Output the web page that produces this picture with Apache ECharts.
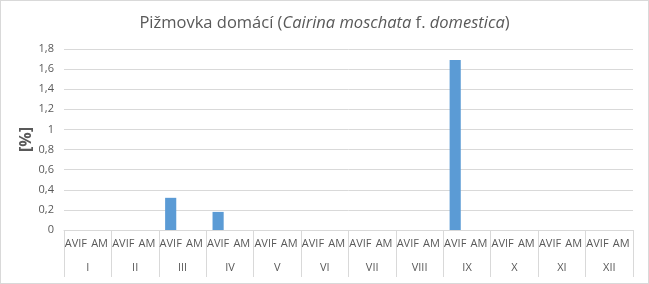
<!DOCTYPE html>
<html><head><meta charset="utf-8">
<script src="https://cdn.jsdelivr.net/npm/echarts@6/dist/echarts.min.js"></script>
<style>html,body{margin:0;padding:0;background:#fff}#c{width:647px;height:282px;border:1px solid #d9d9d9}</style>
</head><body><div id="c"></div>
<script>
const months = ['I','II','III','IV','V','VI','VII','VIII','IX','X','XI','XII'];
const subCats = ['AVIF','AM'];
const avif = [0,0,0.32,0.18,0,0,0,0,1.69,0,0,0];
const am = [0,0,0,0,0,0,0,0,0,0,0,0];
const yTicks = {min:0,max:1.8,interval:0.2};

const cats = [], vals = [];
months.forEach((m,i)=>{ cats.push(subCats[0]); vals.push(avif[i]); cats.push(subCats[1]); vals.push(am[i]); });

const font = '"Open Sans", sans-serif';
const chart = echarts.init(document.getElementById('c'));
chart.setOption({
  animation:false,
  backgroundColor:'#fff',
  title:{
    text:'{n|Pižmovka domácí (}{i|Cairina moschata}{n| f. }{i|domestica}{n|)}',
    left:'center', top:9,
    textStyle:{fontWeight:'normal',rich:{
      n:{fontFamily:font,fontSize:16.5,color:'#595959',fontWeight:'normal'},
      i:{fontFamily:font,fontSize:16.5,color:'#595959',fontStyle:'italic',fontWeight:'normal'}
    }}
  },
  grid:{left:63,right:15,top:48,bottom:53,containLabel:false},
  xAxis:[{
    type:'category', data:cats, position:'bottom',
    axisLine:{show:true,lineStyle:{color:'#d9d9d9'}},
    axisTick:{show:false},
    axisLabel:{interval:0,hideOverlap:false,color:'#595959',fontFamily:font,fontSize:11,margin:8}
  },{
    type:'category', data:months, position:'bottom', offset:0,
    axisLine:{show:false},
    axisTick:{show:true,length:47,lineStyle:{color:'#d9d9d9'}},
    axisLabel:{interval:0,color:'#595959',fontFamily:font,fontSize:11,margin:32}
  }],
  yAxis:{
    type:'value', min:yTicks.min, max:yTicks.max, interval:yTicks.interval,
    name:'[%]', nameLocation:'middle', nameGap:30, nameRotate:90, nameMoveOverlap:false,
    nameTextStyle:{color:'#595959',fontFamily:font,fontSize:16,fontWeight:'bold'},
    axisLine:{show:false}, axisTick:{show:false},
    splitLine:{lineStyle:{color:'#d9d9d9'}},
    axisLabel:{color:'#595959',fontFamily:font,fontSize:11,margin:10,
      formatter:v=>String(Math.round(v*10)/10).replace('.',',')}
  },
  series:[{type:'bar',xAxisIndex:0,data:vals,barWidth:'47%',itemStyle:{color:'#5b9bd5'}}]
});
</script></body></html>
